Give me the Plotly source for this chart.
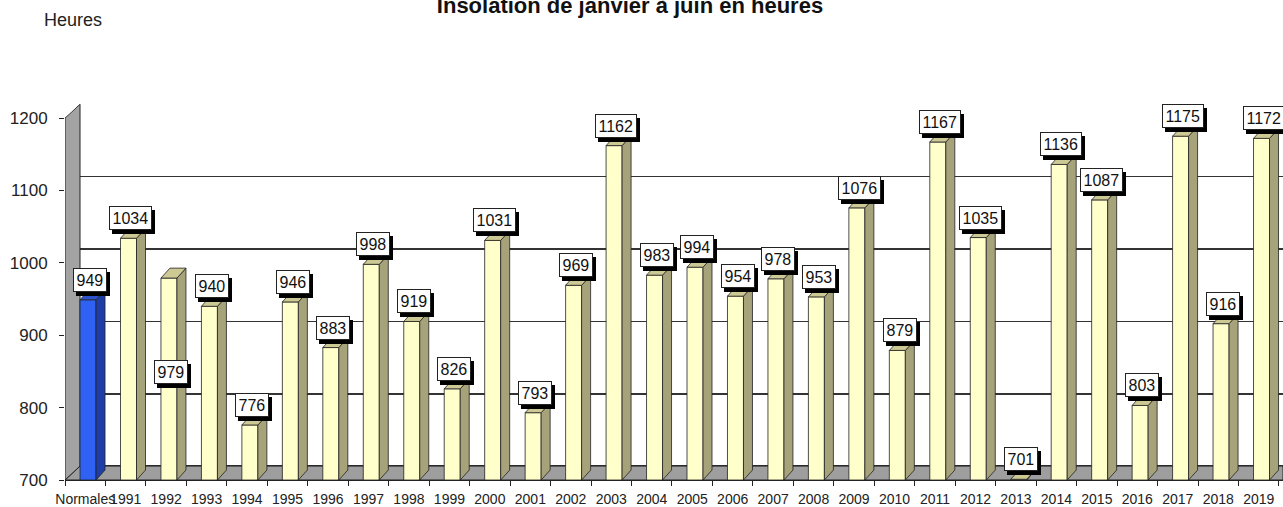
import plotly.graph_objects as go

# ---------------- data ----------------
categories = ["Normales", "1991", "1992", "1993", "1994", "1995", "1996", "1997", "1998", "1999",
              "2000", "2001", "2002", "2003", "2004", "2005", "2006", "2007", "2008", "2009",
              "2010", "2011", "2012", "2013", "2014", "2015", "2016", "2017", "2018", "2019"]
values = [949, 1034, 979, 940, 776, 946, 883, 998, 919, 826,
          1031, 793, 969, 1162, 983, 994, 954, 978, 953, 1076,
          879, 1167, 1035, 701, 1136, 1087, 803, 1175, 916, 1172]
y_ticks = [700, 800, 900, 1000, 1100, 1200]
title_text = "Insolation de janvier à juin en heures"
unit_text = "Heures"

# ---------------- style / geometry ----------------
W, H = 1283, 507
ML, MR, MT, MB = 65, 0, 104, 25
Y_MIN, Y_TOP = 700, 1219.5
X_RANGE = [-0.5, 29.6]
plot_w = W - ML - MR
plot_h = H - MT - MB
px_x = plot_w / (X_RANGE[1] - X_RANGE[0])
px_y = plot_h / (Y_TOP - Y_MIN)

wall_dx = 15 / px_x          # depth of the 3D box (pixels -> data units)
wall_dy = 14 / px_y
bar_off = -5.2 / px_x        # front face start relative to category centre
bar_w = 16 / px_x            # front face width
bar_dx = 9 / px_x            # bar depth
bar_dy = 10 / px_y
label_dx = 5 / px_x
label_override = {"1992": 832}   # Excel put this label inside the bar

FONT = "Liberation Sans, Arial, sans-serif"
FRONT = "#FFFFCC"
SIDE = "#A6A27A"
TOP = "#CDC994"
FRONT_N = "#2F62F2"
SIDE_N = "#1E3DA6"
TOP_N = "#2A52CC"
EDGE = "#222222"

idx = list(range(len(categories)))
fig = go.Figure()

front_colors = [FRONT_N if c == "Normales" else FRONT for c in categories]
fig.add_trace(go.Bar(
    x=idx, y=[v - Y_MIN for v in values], base=Y_MIN,
    width=bar_w, offset=bar_off,
    marker=dict(color=front_colors, line=dict(color=EDGE, width=0.8)),
    hoverinfo="skip", showlegend=False))

for i, (c, v) in enumerate(zip(categories, values)):
    x0 = i + bar_off
    x1 = x0 + bar_w
    side_c = SIDE_N if c == "Normales" else SIDE
    top_c = TOP_N if c == "Normales" else TOP
    # side face
    fig.add_trace(go.Scatter(
        x=[x1, x1 + bar_dx, x1 + bar_dx, x1, x1],
        y=[Y_MIN, Y_MIN + bar_dy, v + bar_dy, v, Y_MIN],
        mode="lines", fill="toself", fillcolor=side_c,
        line=dict(color=EDGE, width=0.8), hoverinfo="skip", showlegend=False))
    # top face
    fig.add_trace(go.Scatter(
        x=[x0, x1, x1 + bar_dx, x0 + bar_dx, x0],
        y=[v, v, v + bar_dy, v + bar_dy, v],
        mode="lines", fill="toself", fillcolor=top_c,
        line=dict(color=EDGE, width=0.8), hoverinfo="skip", showlegend=False))

# helper trace so the overlay axes (back-wall grid, boundary ticks) exist
fig.add_trace(go.Scatter(x=[None], y=[None], xaxis="x2", yaxis="y2",
                         hoverinfo="skip", showlegend=False))

# value labels with shadow
annotations = []
for i, (c, v) in enumerate(zip(categories, values)):
    ly = label_override.get(c, v)
    ys = 0 if c in label_override else 8
    common = dict(x=i + label_dx, y=ly, xref="x", yref="y", text=str(v),
                  showarrow=False, yanchor="bottom", xanchor="center",
                  borderpad=2.5, borderwidth=1,
                  font=dict(family=FONT, size=16))
    a_sh = dict(common)
    a_sh.update(xshift=3, yshift=ys - 4, bgcolor="black", bordercolor="black",
                font=dict(family=FONT, size=16, color="black"))
    a = dict(common)
    a.update(yshift=ys, bgcolor="white", bordercolor=EDGE,
             font=dict(family=FONT, size=16, color="#111111"))
    annotations += [a_sh, a]

annotations.append(dict(text=unit_text, xref="paper", yref="paper",
                        x=(42 - ML) / plot_w, y=(H - MB - 20) / plot_h,
                        xanchor="left", yanchor="middle", showarrow=False,
                        font=dict(family=FONT, size=18, color="#222222")))

shapes = [
    # floor
    dict(type="path", xref="x", yref="y", layer="between",
         path=f"M {X_RANGE[0]},{Y_MIN} L {X_RANGE[1]},{Y_MIN} L {X_RANGE[1]},{Y_MIN + wall_dy} "
              f"L {X_RANGE[0] + wall_dx},{Y_MIN + wall_dy} Z",
         fillcolor="#9E9E9E", line=dict(color=EDGE, width=1)),
    # left wall
    dict(type="path", xref="x", yref="y", layer="between",
         path=f"M {X_RANGE[0]},{Y_MIN} L {X_RANGE[0]},1200 L {X_RANGE[0] + wall_dx},{1200 + wall_dy} "
              f"L {X_RANGE[0] + wall_dx},{Y_MIN + wall_dy} Z",
         fillcolor="#A3A3A3", line=dict(color=EDGE, width=1)),
    # blank corner above the wall
    dict(type="path", xref="x", yref="y", layer="between",
         path=f"M {X_RANGE[0]},{Y_TOP} L {X_RANGE[0] + wall_dx - 0.01},{Y_TOP} L {X_RANGE[0]},1201 Z",
         fillcolor="white", line=dict(width=0)),
]

fig.update_layout(
    width=W, height=H,
    margin=dict(l=ML, r=MR, t=MT, b=MB),
    paper_bgcolor="white", plot_bgcolor="white",
    font=dict(family=FONT, color="#222222"),
    hovermode=False,
    title=dict(text="<b>" + title_text + "</b>", x=630 / W, xanchor="center",
               y=1 - 5 / H, yanchor="middle", font=dict(family=FONT, size=22, color="#111111")),
    showlegend=False,
    xaxis=dict(range=X_RANGE, tickmode="array", tickvals=idx, ticktext=categories,
               ticks="", tickangle=0, showgrid=False, zeroline=False,
               showline=True, linecolor=EDGE, linewidth=1,
               tickfont=dict(family=FONT, size=14, color="#222222"),
               ticklabelstandoff=6),
    xaxis2=dict(range=X_RANGE, overlaying="x", side="bottom", tickmode="array",
                tickvals=[i - 0.5 for i in range(len(categories) + 1)],
                ticks="outside", ticklen=5, tickcolor=EDGE, showticklabels=False,
                showgrid=False, zeroline=False, showline=False),
    yaxis=dict(range=[Y_MIN, Y_TOP], tickmode="array", tickvals=y_ticks,
               ticks="outside", ticklen=5, tickcolor=EDGE, showgrid=False,
               zeroline=False, showline=False,
               tickfont=dict(family=FONT, size=17, color="#222222"),
               ticklabelstandoff=8),
    yaxis2=dict(range=[Y_MIN - wall_dy, Y_TOP - wall_dy], overlaying="y", side="left",
                tickmode="array", tickvals=y_ticks, showticklabels=False, ticks="",
                showgrid=True, gridcolor="#333333", gridwidth=1.6,
                zeroline=False, showline=False),
    annotations=annotations,
    shapes=shapes,
)

fig.write_html("out.html", config={"displayModeBar": False, "staticPlot": True},
               post_script="document.body.style.margin='0';document.body.style.overflow='hidden';")
